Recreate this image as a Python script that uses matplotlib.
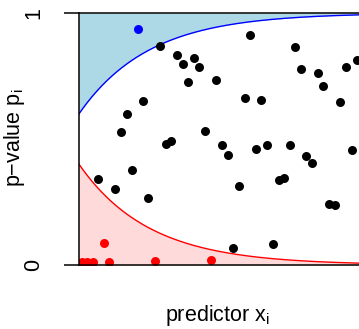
import numpy as np
import matplotlib
matplotlib.use('Agg')
import matplotlib.pyplot as plt

plt.rcParams['font.family'] = ['Liberation Sans', 'DejaVu Sans']

# points between the two curves (black)
x_mid = [2.89, 2.30, 1.70, 1.49, 3.11, 3.29, 6.11, 3.50, 4.10, 3.71, 4.30,
         3.89, 4.91, 5.92, 6.51, 4.50, 7.73, 7.94, 8.52, 8.73, 9.53, 9.93,
         9.33, 5.11, 5.32, 6.31, 6.71, 7.53, 8.11, 8.33, 9.74, 0.69, 1.29,
         1.88, 2.48, 5.73, 7.13, 7.33, 8.92, 9.14, 5.51, 6.93]
p_mid = [0.870, 0.652, 0.598, 0.529, 0.480, 0.492, 0.914, 0.832, 0.823,
         0.796, 0.787, 0.728, 0.736, 0.664, 0.653, 0.530, 0.866, 0.779,
         0.760, 0.711, 0.784, 0.815, 0.646, 0.478, 0.438, 0.462, 0.478,
         0.478, 0.434, 0.405, 0.458, 0.341, 0.302, 0.378, 0.266, 0.315,
         0.337, 0.346, 0.244, 0.238, 0.069, 0.084]
# points below the lower curve (red)
x_low = [0.10, 0.30, 0.49, 0.89, 1.08, 2.70, 4.71]
p_low = [0.013, 0.013, 0.013, 0.088, 0.013, 0.014, 0.021]
# points above the upper curve (blue)
x_high = [2.10]
p_high = [0.938]

fig = plt.figure(figsize=(3.59, 3.29), dpi=100)
ax = fig.add_axes([79 / 359, 64 / 329, 280 / 359, 252 / 329])

xs = np.linspace(0, 10, 400)
lower = 0.4 * np.exp(-0.4 * xs)
upper = 1 - lower

ax.fill_between(xs, upper, 1, color='#ADD8E6', lw=0)
ax.fill_between(xs, 0, lower, color='#FFDADA', lw=0)
ax.plot(xs, upper, color='blue', lw=1.0)
ax.plot(xs, lower, color='red', lw=1.0)

ax.scatter(x_mid, p_mid, s=42, color='black', lw=0, zorder=3)
ax.scatter(x_low, p_low, s=42, color='red', lw=0, zorder=3)
ax.scatter(x_high, p_high, s=42, color='blue', lw=0, zorder=3)

ax.set_xlim(0, 10)
ax.set_ylim(0, 1)
ax.spines['right'].set_visible(False)
for s in ['left', 'top', 'bottom']:
    ax.spines[s].set_linewidth(1.1)
    ax.spines[s].set_zorder(4)
ax.set_xticks([])
ax.set_yticks([0, 1])
ax.set_yticklabels(['0', '1'], rotation=90, va='center', fontsize=15.5)
ax.tick_params(axis='y', length=10.8, width=1.1, direction='out', pad=14)

fig.text(217.5 / 359, 8 / 329, r'predictor x$_\mathregular{i}$',
         ha='center', va='baseline', fontsize=15.5)
fig.text(15 / 359, 1 - 138 / 329, r'p−value p$_\mathregular{i}$',
         ha='center', va='center', rotation=90, fontsize=15.5)

fig.savefig('out.png', dpi=100)
